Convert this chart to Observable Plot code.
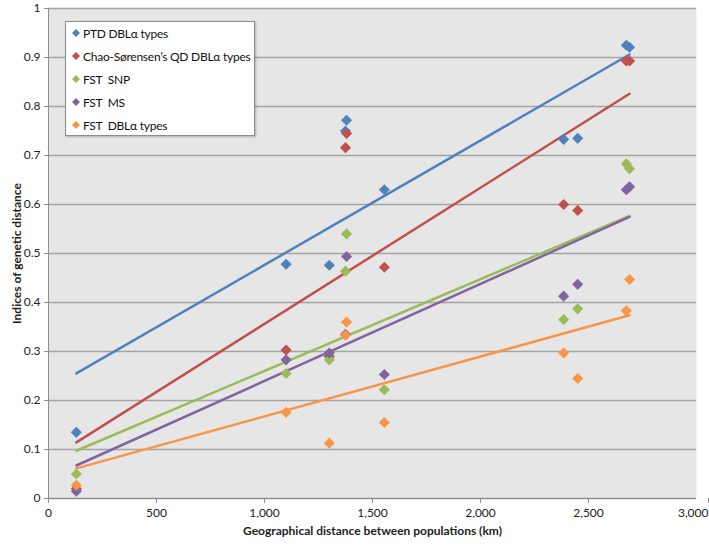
<!DOCTYPE html>
<html><head><meta charset="utf-8">
<script src="https://cdn.jsdelivr.net/npm/d3@7"></script>
<script src="https://cdn.jsdelivr.net/npm/@observablehq/plot@0.6"></script>
<style>
body{margin:0;background:#fff;}
#wrap{position:relative;width:709px;height:548px;font-family:Lato,"Open Sans",sans-serif;}
#wrap svg{font-family:Lato,"Open Sans",sans-serif;}
#wrap svg g[aria-label="y-axis label"] text, #wrap svg g[aria-label="x-axis label"] text{font-weight:bold;}
#legend{position:absolute;left:65px;top:21px;width:188px;height:113px;background:#fff;border:1px solid #8c8c8c;box-shadow:1px 1px 2px rgba(0,0,0,.25);font-size:12px;color:#111;letter-spacing:-0.25px;}
#legend .item{position:absolute;left:6px;height:16px;line-height:16px;white-space:pre;}
#legend svg{vertical-align:middle;margin-right:3px;position:relative;top:-2px;}
</style></head>
<body><div id="wrap"><div id="chart"></div><div id="legend"></div></div>
<script>
const distances = [129, 1100, 1300, 1375, 1380, 1555, 2385, 2450, 2675, 2690];
const ptd     = [0.135, 0.478, 0.476, 0.750, 0.772, 0.630, 0.733, 0.735, 0.925, 0.921];
const chao    = [0.020, 0.303, 0.290, 0.716, 0.745, 0.472, 0.600, 0.588, 0.893, 0.893];
const fstSnp  = [0.050, 0.255, 0.283, 0.464, 0.540, 0.222, 0.365, 0.387, 0.683, 0.673];
const fstMs   = [0.015, 0.283, 0.297, 0.335, 0.494, 0.253, 0.413, 0.437, 0.630, 0.636];
const fstDbl  = [0.027, 0.176, 0.113, 0.333, 0.360, 0.155, 0.297, 0.245, 0.383, 0.447];
const seriesNames = ["PTD DBLα types", "Chao-Sørensen’s QD DBLα types", "FST  SNP", "FST  MS", "FST  DBLα types"];
const seriesColors = ["#4F81BD", "#C0504D", "#9BBB59", "#8064A2", "#F79646"];
const yTicks = [0, 0.1, 0.2, 0.3, 0.4, 0.5, 0.6, 0.7, 0.8, 0.9, 1];
const xTicks = [0, 500, 1000, 1500, 2000, 2500, 3000];

const allValues = [ptd, chao, fstSnp, fstMs, fstDbl];
const rows = [];
allValues.forEach((vals, i) => vals.forEach((v, j) => rows.push({d: distances[j], v, s: seriesNames[i]})));

const chart = Plot.plot({
  width: 709, height: 548,
  marginLeft: 48, marginRight: 13, marginTop: 8, marginBottom: 50,
  style: {fontSize: "12px", color: "#222", background: "#fff"},
  x: {domain: [0, 3000]},
  y: {domain: [0, 1]},
  color: {domain: seriesNames, range: seriesColors},
  marks: [
    Plot.frame({fill: "#e6e6e6", stroke: null}),
    Plot.gridY(yTicks.filter(t => t > 0), {stroke: "#a3a3a3", strokeOpacity: 1, strokeWidth: 1.5}),
    Plot.ruleY([0], {stroke: "#8f8f8f", strokeWidth: 1.5}),
    Plot.ruleX([0], {stroke: "#8f8f8f", strokeWidth: 1}),
    Plot.axisY({ticks: yTicks, tickFormat: d => String(+d.toFixed(1)), tickSize: 4, tickPadding: 4, stroke: "#8f8f8f",
      label: "Indices of genetic distance", labelAnchor: "center", labelOffset: 36, labelArrow: "none"}),
    Plot.axisX({ticks: xTicks.slice(0, -1), tickFormat: d3.format(","), tickSize: 5, tickPadding: 5, stroke: "#8f8f8f",
      label: "Geographical distance between populations (km)", labelAnchor: "center", labelOffset: 36, labelArrow: "none"}),
    Plot.axisX({ticks: xTicks.slice(-1), tickFormat: d3.format(","), tickSize: 5, tickPadding: 5, stroke: "#8f8f8f",
      textAnchor: "end", dx: 12, label: null}),
    Plot.linearRegressionY(rows, {x: "d", y: "v", stroke: "s", ci: 0, strokeWidth: 2.5}),
    Plot.dot(rows, {x: "d", y: "v", fill: "s", symbol: "diamond2", r: 5, stroke: null})
  ]
});
document.getElementById("chart").appendChild(chart);

const legend = document.getElementById("legend");
seriesNames.forEach((name, i) => {
  const div = document.createElement("div");
  div.className = "item";
  div.style.top = (4 + i * 23) + "px";
  div.innerHTML = `<svg width="8" height="8" viewBox="-4 -4 8 8"><path d="M0,-4L4,0L0,4L-4,0Z" fill="${seriesColors[i]}"/></svg>`;
  div.appendChild(document.createTextNode(name));
  legend.appendChild(div);
});
</script>
</body></html>
